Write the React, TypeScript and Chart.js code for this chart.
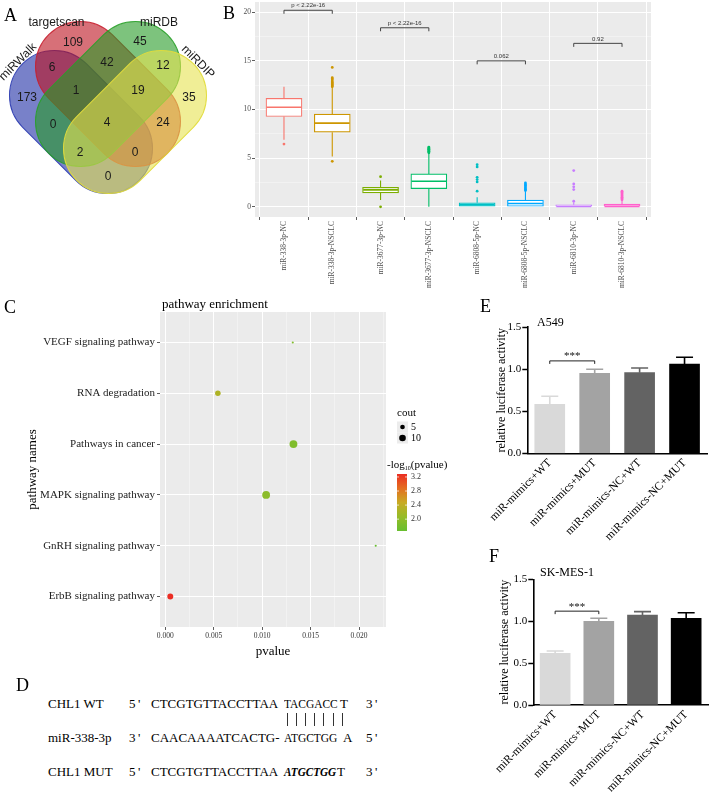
import React, { useEffect, useRef } from "react";
import { Chart, registerables } from "chart.js";

Chart.register(...registerables);

const SERIF = "'Liberation Serif', 'Times New Roman', Times, serif";
const SANS = "'Liberation Sans', Arial, Helvetica, sans-serif";

/* ======================= DATA ======================= */
// Panel A - Venn
const vennSetNames = ["miRWalk", "targetscan", "miRDB", "miRDIP"];
const vennRegionCounts = [173, 109, 45, 35, 6, 42, 12, 1, 19, 0, 4, 24, 2, 0, 0];

// Panel B - box plots
const bxCats = [
  "miR-338-3p-NC", "miR-338-3p-NSCLC", "miR-3677-3p-NC", "miR-3677-3p-NSCLC",
  "miR-6808-5p-NC", "miR-6808-5p-NSCLC", "miR-6810-3p-NC", "miR-6810-3p-NSCLC",
];
const bxQ1 = [9.28, 7.67, 1.43, 1.87, 0.0, 0.0, 0.0, 0.0];
const bxMedian = [10.23, 8.6, 1.74, 2.62, 0.2, 0.34, 0.04, 0.04];
const bxQ3 = [11.15, 9.52, 2.0, 3.38, 0.41, 0.68, 0.2, 0.27];
const bxWhiskerLow = [6.89, 5.18, 0.71, 0.0, 0.0, 0.0, 0.0, 0.0];
const bxWhiskerHigh = [12.35, 12.28, 2.69, 5.52, 0.98, 1.6, 0.45, 0.66];
const bxOutliers = [
  [6.45],
  [12.35, 12.45, 12.55, 12.65, 12.75, 12.86, 13.03, 13.15, 13.27, 14.33, 4.67],
  [3.1, 0.0],
  [5.55, 5.62, 5.7, 5.78, 5.85, 5.92, 6.0, 6.07, 6.14],
  [1.6, 2.56, 2.8, 3.03, 4.1, 4.33],
  [1.67, 1.8, 1.92, 2.05, 2.18, 2.3, 2.45],
  [0.57, 1.77, 2.05, 2.35, 3.72],
  [0.72, 0.85, 0.98, 1.1, 1.22, 1.35, 1.48, 1.6],
];
const bxPairLabels = ["p < 2.22e-16", "p < 2.22e-16", "0.062", "0.92"];
const bxPairLevels = [20.2, 18.4, 15.0, 16.8];
const bxYMajor = [0, 5, 10, 15, 20];

// Panel C - pathway enrichment
const pathNames = [
  "VEGF signaling pathway", "RNA degradation", "Pathways in cancer",
  "MAPK signaling pathway", "GnRH signaling pathway", "ErbB signaling pathway",
];
const pathPValues = [0.01316, 0.00543, 0.01323, 0.01041, 0.02172, 0.00052];
const pathCounts = [1, 7, 14, 14, 1, 8];
const pathXMajor = [0, 0.005, 0.01, 0.015, 0.02];
const legendCounts = [5, 10];
const colorbarTicks = [3.2, 2.8, 2.4, 2.0];

// Panels E / F - luciferase
const lucCats = ["miR-mimics+WT", "miR-mimics+MUT", "miR-mimics-NC+WT", "miR-mimics-NC+MUT"];
const a549Mean = [0.583, 0.952, 0.96, 1.063];
const a549Sd = [0.097, 0.048, 0.055, 0.08];
const skmesMean = [0.617, 0.998, 1.074, 1.035];
const skmesSd = [0.027, 0.037, 0.04, 0.065];
const lucTicks = [0, 0.5, 1.0, 1.5];

// Panel D - sequences
const seqNames = ["CHL1 WT", "miR-338-3p", "CHL1 MUT"];
const seqEnd5 = ["5\u2009'", "3\u2009'", "5\u2009'"];
const seqBody = ["CTCGTGTTACCTTAA", "CAACAAAATCACTG-", "CTCGTGTTACCTTAA"];
const seqSeed = ["TACGACC", "ATGCTGG", "ATGCTGG"];
const seqTail = ["T", "A", "T"];
const seqEnd3 = ["3\u2009'", "5\u2009'", "3\u2009'"];

/* ======================= STYLE / LAYOUT ======================= */
const vennShape = [
  { cx: 81, cy: 122, angle: 45, half: 37.5 },
  { cx: 108, cy: 94, angle: 45, half: 38.9 },
  { cx: 108, cy: 94, angle: -45, half: 38.9 },
  { cx: 135, cy: 122, angle: -45, half: 37.5 },
];
const VENN_R = 45;
const vennFill = ["rgba(30,45,165,0.6)", "rgba(188,17,30,0.6)", "rgba(38,155,38,0.6)", "rgba(230,227,80,0.6)"];
const vennStroke = ["rgba(40,55,175,0.9)", "rgba(200,30,45,0.9)", "rgba(40,160,40,0.9)", "rgba(225,220,60,0.95)"];
const vennRegionAnchor = [
  [27, 98], [73, 43], [140, 42], [189, 98], [52, 68], [107, 63], [163, 66],
  [76, 91], [138, 91], [53, 125], [107, 123], [163, 123], [80, 153], [135, 153], [108, 177],
];
const vennLabelAnchor = [[18, 62, -45], [56.5, 23, 0], [159, 23, 0], [198, 62, 45]];

const bxColors = ["#F8766D", "#CD9600", "#7CAE00", "#00BE67", "#00BFC4", "#00A9FF", "#C77CFF", "#FF61CC"];
const lucColors = ["#d9d9d9", "#a3a3a3", "#636363", "#000000"];

const gradStops: [number, number[]][] = [
  [0, [104, 190, 48]], [0.25, [150, 188, 40]], [0.5, [200, 170, 35]], [0.75, [228, 110, 32]], [1, [235, 45, 35]],
];
function gradColor(t: number) {
  t = Math.max(0, Math.min(1, t));
  for (let k = 1; k < gradStops.length; k++) {
    const [t1, c1] = gradStops[k];
    const [t0, c0] = gradStops[k - 1];
    if (t <= t1) {
      const f = (t - t0) / (t1 - t0);
      const c = c0.map((v, j) => Math.round(v + (c1[j] - v) * f));
      return `rgb(${c[0]},${c[1]},${c[2]})`;
    }
  }
  return "rgb(235,45,35)";
}
const countRadius = (c: number) => 1.05 * Math.sqrt(c);

/* ======================= PLUGINS ======================= */
const panelBg = {
  id: "panelBg",
  beforeDraw(chart: any) {
    const { ctx, chartArea: a } = chart;
    ctx.save();
    ctx.fillStyle = "#ebebeb";
    ctx.fillRect(a.left, a.top, a.right - a.left, a.bottom - a.top);
    ctx.restore();
  },
};

const vennPlugin = {
  id: "venn",
  beforeDatasetsDraw(chart: any) {
    const { ctx, scales } = chart;
    const x = scales.x, y = scales.y;
    const k = x.getPixelForValue(1) - x.getPixelForValue(0);
    vennShape.forEach((e, i) => {
      ctx.save();
      ctx.translate(x.getPixelForValue(e.cx), y.getPixelForValue(e.cy));
      ctx.rotate((e.angle * Math.PI) / 180);
      const L = e.half * k, R = VENN_R * k;
      ctx.beginPath();
      ctx.arc(L, 0, R, -Math.PI / 2, Math.PI / 2);
      ctx.arc(-L, 0, R, Math.PI / 2, (3 * Math.PI) / 2);
      ctx.closePath();
      ctx.fillStyle = vennFill[i];
      ctx.fill();
      ctx.lineWidth = 1;
      ctx.strokeStyle = vennStroke[i];
      ctx.stroke();
      ctx.restore();
    });
  },
  afterDatasetsDraw(chart: any) {
    const { ctx, scales } = chart;
    const x = scales.x, y = scales.y;
    const meta = chart.getDatasetMeta(0);
    ctx.save();
    ctx.font = `12px ${SANS}`;
    ctx.textAlign = "center";
    ctx.textBaseline = "middle";
    ctx.fillStyle = "#1a1a1a";
    meta.data.forEach((pt: any, i: number) => ctx.fillText(String(vennRegionCounts[i]), pt.x, pt.y));
    vennSetNames.forEach((name, i) => {
      const [lx, ly, rot] = vennLabelAnchor[i];
      ctx.save();
      ctx.translate(x.getPixelForValue(lx), y.getPixelForValue(ly));
      ctx.rotate((rot * Math.PI) / 180);
      ctx.fillText(name, 0, 0);
      ctx.restore();
    });
    ctx.restore();
  },
};

const boxParts = {
  id: "boxParts",
  afterDatasetsDraw(chart: any) {
    const { ctx, scales } = chart;
    const x = scales.x, y = scales.y;
    const bars = chart.getDatasetMeta(0).data;
    ctx.save();
    bxCats.forEach((_, i) => {
      const cx = x.getPixelForValue(i + 1);
      const half = bars[i].width / 2;
      ctx.strokeStyle = bxColors[i];
      ctx.lineWidth = 1.1;
      ctx.beginPath();
      ctx.moveTo(cx, y.getPixelForValue(bxQ3[i]));
      ctx.lineTo(cx, y.getPixelForValue(bxWhiskerHigh[i]));
      ctx.moveTo(cx, y.getPixelForValue(bxQ1[i]));
      ctx.lineTo(cx, y.getPixelForValue(bxWhiskerLow[i]));
      ctx.stroke();
      ctx.lineWidth = 1.6;
      ctx.beginPath();
      const ym = y.getPixelForValue(bxMedian[i]);
      ctx.moveTo(cx - half + 0.6, ym);
      ctx.lineTo(cx + half - 0.6, ym);
      ctx.stroke();
    });
    ctx.strokeStyle = "#444";
    ctx.fillStyle = "#333";
    ctx.lineWidth = 1;
    ctx.font = `6px ${SANS}`;
    ctx.textAlign = "center";
    ctx.textBaseline = "bottom";
    bxPairLabels.forEach((lab, p) => {
      const x1 = x.getPixelForValue(2 * p + 1);
      const x2 = x.getPixelForValue(2 * p + 2);
      const yy = y.getPixelForValue(bxPairLevels[p]);
      ctx.beginPath();
      ctx.moveTo(x1, yy + 3.5);
      ctx.lineTo(x1, yy);
      ctx.lineTo(x2, yy);
      ctx.lineTo(x2, yy + 3.5);
      ctx.stroke();
      ctx.fillText(lab, (x1 + x2) / 2, yy - 1.5);
    });
    ctx.restore();
  },
};

const bubbleLegend = {
  id: "bubbleLegend",
  afterDraw(chart: any) {
    const { ctx, chartArea } = chart;
    const nlp = pathPValues.map((p) => -Math.log10(p));
    const lo = Math.min(...nlp), hi = Math.max(...nlp);
    const x0 = chartArea.right + 11;
    ctx.save();
    ctx.textBaseline = "middle";
    ctx.textAlign = "left";
    ctx.fillStyle = "#000";
    ctx.font = `11px ${SERIF}`;
    ctx.fillText("cout", x0, 123);
    legendCounts.forEach((c, k) => {
      const cy = 137 + k * 11;
      ctx.fillStyle = "#ececec";
      ctx.fillRect(x0, cy - 5.5, 11, 11);
      ctx.fillStyle = "#000";
      ctx.beginPath();
      ctx.arc(x0 + 5.5, cy, countRadius(c), 0, Math.PI * 2);
      ctx.fill();
      ctx.font = `10px ${SERIF}`;
      ctx.fillText(String(c), x0 + 14, cy);
    });
    let tx = chartArea.right + 1;
    ctx.font = `11px ${SERIF}`;
    ctx.fillText("-log", tx, 175);
    tx += ctx.measureText("-log").width;
    ctx.font = `6px ${SERIF}`;
    ctx.fillText("10", tx, 178);
    tx += ctx.measureText("10").width;
    ctx.font = `11px ${SERIF}`;
    ctx.fillText("(pvalue)", tx, 175);
    const top = 184, h = 57, w = 10;
    const g = ctx.createLinearGradient(0, top + h, 0, top);
    for (let k = 0; k <= 20; k++) g.addColorStop(k / 20, gradColor(k / 20));
    ctx.fillStyle = g;
    ctx.fillRect(x0, top, w, h);
    ctx.font = `8px ${SERIF}`;
    colorbarTicks.forEach((v) => {
      const yy = top + ((hi - v) / (hi - lo)) * h;
      ctx.strokeStyle = "rgba(255,255,255,0.9)";
      ctx.lineWidth = 0.8;
      ctx.beginPath();
      ctx.moveTo(x0, yy);
      ctx.lineTo(x0 + 2, yy);
      ctx.moveTo(x0 + w - 2, yy);
      ctx.lineTo(x0 + w, yy);
      ctx.stroke();
      ctx.fillStyle = "#333";
      ctx.fillText(v.toFixed(1), x0 + 14, yy);
    });
    ctx.restore();
  },
};

function lucExtras(sd: number[], mean: number[], sigLevel: number) {
  return {
    id: "lucExtras",
    afterDatasetsDraw(chart: any) {
      const { ctx, scales } = chart;
      const y = scales.y;
      const bars = chart.getDatasetMeta(0).data;
      ctx.save();
      bars.forEach((b: any, i: number) => {
        const yTop = y.getPixelForValue(mean[i]);
        const yErr = y.getPixelForValue(mean[i] + sd[i]);
        ctx.strokeStyle = lucColors[i];
        ctx.lineWidth = 1.6;
        ctx.beginPath();
        ctx.moveTo(b.x, yTop);
        ctx.lineTo(b.x, yErr);
        ctx.moveTo(b.x - 8.5, yErr);
        ctx.lineTo(b.x + 8.5, yErr);
        ctx.stroke();
      });
      const x1 = bars[0].x, x2 = bars[1].x;
      const yy = y.getPixelForValue(sigLevel);
      ctx.strokeStyle = "#222";
      ctx.lineWidth = 1;
      ctx.beginPath();
      ctx.moveTo(x1, yy + 3);
      ctx.lineTo(x1, yy);
      ctx.lineTo(x2, yy);
      ctx.lineTo(x2, yy + 3);
      ctx.stroke();
      ctx.fillStyle = "#111";
      ctx.font = `11px ${SERIF}`;
      ctx.textAlign = "center";
      ctx.textBaseline = "bottom";
      ctx.fillText("***", (x1 + x2) / 2, yy + 1);
      ctx.restore();
    },
  };
}

/* ======================= CONFIGS ======================= */
const noPlugins = { legend: { display: false }, tooltip: { enabled: false } };

function vennConfig(): any {
  return {
    type: "scatter",
    data: { datasets: [{ data: vennRegionAnchor.map(([x, y]) => ({ x, y })), pointRadius: 0 }] },
    options: {
      animation: false,
      responsive: false,
      events: [],
      layout: { padding: 0 },
      plugins: noPlugins,
      scales: {
        x: { type: "linear", display: false, min: 0, max: 216 },
        y: { type: "linear", display: false, min: 0, max: 200, reverse: true },
      },
    },
    plugins: [vennPlugin],
  };
}

function boxConfig(): any {
  const outlierData: { x: number; y: number }[] = [];
  const outlierColors: string[] = [];
  bxOutliers.forEach((arr, i) =>
    arr.forEach((v) => {
      outlierData.push({ x: i + 1, y: v });
      outlierColors.push(bxColors[i]);
    })
  );
  const yTicks = [...bxYMajor, ...bxYMajor.slice(0, -1).map((v) => v + 2.5)].sort((a, b) => a - b);
  const isMajor = (v: number) => bxYMajor.some((m) => Math.abs(m - v) < 1e-6);
  return {
    type: "bar",
    data: {
      datasets: [
        {
          type: "bar",
          data: bxCats.map((_, i) => ({ x: i + 1, y: [bxQ1[i], bxQ3[i]] })),
          backgroundColor: "#ffffff",
          borderColor: bxColors,
          borderWidth: 1.2,
          borderSkipped: false,
          barThickness: 36,
        },
        {
          type: "scatter",
          data: outlierData,
          pointRadius: 1.4,
          pointBackgroundColor: outlierColors,
          pointBorderWidth: 0,
          showLine: false,
        },
      ],
    },
    options: {
      animation: false,
      responsive: false,
      events: [],
      layout: { padding: { left: 0, right: 65, top: 6, bottom: 0 } },
      plugins: noPlugins,
      scales: {
        x: {
          type: "linear",
          min: 0.4,
          max: 8.6,
          offset: false,
          afterBuildTicks: (ax: any) => {
            ax.ticks = bxCats.map((_, i) => ({ value: i + 1 }));
          },
          afterFit: (ax: any) => {
            ax.height = 79;
          },
          ticks: {
            autoSkip: false,
            minRotation: 90,
            maxRotation: 90,
            padding: 1,
            color: "#4d4d4d",
            font: { family: SERIF, size: 7.5 },
            callback: (v: number) => bxCats[Math.round(v) - 1] ?? "",
          },
          grid: { color: "#ffffff", lineWidth: 1, tickLength: 3, tickColor: "#333", tickWidth: 0.8 },
          border: { display: false },
        },
        y: {
          type: "linear",
          min: -1.05,
          max: 21.05,
          afterBuildTicks: (ax: any) => {
            ax.ticks = yTicks.map((v) => ({ value: v }));
          },
          afterFit: (ax: any) => {
            ax.width = 33;
          },
          ticks: {
            autoSkip: false,
            padding: 1,
            color: "#4d4d4d",
            font: { family: SERIF, size: 7.5 },
            callback: (v: number) => (isMajor(v) ? String(v) : ""),
          },
          grid: {
            color: (c: any) => (isMajor(c.tick.value) ? "#ffffff" : "rgba(255,255,255,0.75)"),
            lineWidth: (c: any) => (isMajor(c.tick.value) ? 1 : 0.5),
            tickLength: 3,
            tickColor: (c: any) => (isMajor(c.tick.value) ? "#333" : "rgba(0,0,0,0)"),
            tickWidth: 0.8,
          },
          border: { display: false },
        },
      },
    },
    plugins: [panelBg, boxParts],
  };
}

function bubbleConfig(): any {
  const nlp = pathPValues.map((p) => -Math.log10(p));
  const lo = Math.min(...nlp), hi = Math.max(...nlp);
  const xTicks = [...pathXMajor, ...pathXMajor.map((v) => v + 0.0025)].sort((a, b) => a - b);
  const isMajor = (v: number) => pathXMajor.some((m) => Math.abs(m - v) < 1e-9);
  const n = pathNames.length;
  return {
    type: "bubble",
    data: {
      datasets: [
        {
          data: pathNames.map((_, i) => ({ x: pathPValues[i], y: n - i, r: countRadius(pathCounts[i]) })),
          backgroundColor: nlp.map((v) => gradColor((v - lo) / (hi - lo))),
          borderWidth: 0,
        },
      ],
    },
    options: {
      animation: false,
      responsive: false,
      events: [],
      layout: { padding: { left: 21, right: 69, top: 22, bottom: 7 } },
      plugins: noPlugins,
      scales: {
        x: {
          type: "linear",
          min: -0.00054,
          max: 0.02278,
          afterBuildTicks: (ax: any) => {
            ax.ticks = xTicks.map((v) => ({ value: v }));
          },
          afterFit: (ax: any) => {
            ax.height = 36;
          },
          ticks: {
            autoSkip: false,
            maxRotation: 0,
            padding: 2,
            color: "#333",
            font: { family: SERIF, size: 7.5 },
            callback: (v: number) => (isMajor(v) ? v.toFixed(3) : ""),
          },
          grid: {
            color: (c: any) => (isMajor(c.tick.value) ? "#ffffff" : "rgba(255,255,255,0.75)"),
            lineWidth: (c: any) => (isMajor(c.tick.value) ? 1 : 0.5),
            tickLength: 3,
            tickColor: (c: any) => (isMajor(c.tick.value) ? "#333" : "rgba(0,0,0,0)"),
            tickWidth: 0.8,
          },
          border: { display: false },
          title: {
            display: true,
            text: "pvalue",
            color: "#000",
            font: { family: SERIF, size: 13 },
            padding: { top: 0, bottom: 4 },
          },
        },
        y: {
          type: "linear",
          min: 0.4,
          max: 6.6,
          afterBuildTicks: (ax: any) => {
            ax.ticks = pathNames.map((_, i) => ({ value: i + 1 }));
          },
          afterFit: (ax: any) => {
            ax.width = 139;
          },
          ticks: {
            autoSkip: false,
            padding: 2,
            color: "#222",
            font: { family: SERIF, size: 11 },
            callback: (v: number) => pathNames[n - Math.round(v)] ?? "",
          },
          grid: { color: "#ffffff", lineWidth: 1, tickLength: 3, tickColor: "#333", tickWidth: 0.8 },
          border: { display: false },
          title: {
            display: true,
            text: "pathway names",
            color: "#000",
            font: { family: SERIF, size: 13 },
            padding: { top: 4, bottom: 0 },
          },
        },
      },
    },
    plugins: [panelBg, bubbleLegend],
  };
}

function lucConfig(mean: number[], sd: number[], sigLevel: number, pad: any, yWidth: number, xHeight: number): any {
  return {
    type: "bar",
    data: {
      labels: lucCats,
      datasets: [{ data: mean, backgroundColor: lucColors, borderWidth: 0, barThickness: 30 }],
    },
    options: {
      animation: false,
      responsive: false,
      events: [],
      layout: { padding: pad },
      plugins: noPlugins,
      scales: {
        x: {
          afterFit: (ax: any) => {
            ax.height = xHeight;
          },
          ticks: {
            autoSkip: false,
            minRotation: 45,
            maxRotation: 45,
            padding: 3,
            color: "#000",
            font: { family: SERIF, size: 11.5 },
          },
          grid: { display: true, drawOnChartArea: false, drawTicks: false },
          border: { display: true, color: "#000", width: 1.6 },
        },
        y: {
          min: 0,
          max: 1.5,
          afterBuildTicks: (ax: any) => {
            ax.ticks = lucTicks.map((v) => ({ value: v }));
          },
          afterFit: (ax: any) => {
            ax.width = yWidth;
          },
          ticks: {
            padding: 1,
            color: "#000",
            font: { family: SERIF, size: 11 },
            callback: (v: number) => v.toFixed(1),
          },
          grid: { display: true, drawOnChartArea: false, drawTicks: true, tickLength: 5, tickColor: "#000", tickWidth: 1.5 },
          border: { display: true, color: "#000", width: 1.6 },
          title: {
            display: true,
            text: "relative luciferase activity",
            color: "#000",
            font: { family: SERIF, size: 12 },
            padding: { top: 4, bottom: 0 },
          },
        },
      },
    },
    plugins: [lucExtras(sd, mean, sigLevel)],
  };
}

/* ======================= COMPONENTS ======================= */
function ChartCanvas(props: { left: number; top: number; width: number; height: number; make: () => any }) {
  const ref = useRef<HTMLCanvasElement | null>(null);
  useEffect(() => {
    const chart = new Chart(ref.current as HTMLCanvasElement, props.make());
    return () => chart.destroy();
  }, []);
  const { left, top, width, height } = props;
  return (
    <canvas
      ref={ref}
      width={width}
      height={height}
      style={{ position: "absolute", left, top, width, height, display: "block" }}
    />
  );
}

function Txt(props: {
  x: number;
  y: number;
  size: number;
  family?: string;
  weight?: string;
  italic?: boolean;
  squeeze?: number;
  children: React.ReactNode;
}) {
  return (
    <div
      style={{
        position: "absolute",
        left: props.x,
        top: props.y - props.size / 2,
        fontSize: props.size,
        lineHeight: `${props.size}px`,
        fontFamily: props.family || SERIF,
        fontWeight: props.weight || "normal",
        fontStyle: props.italic ? "italic" : "normal",
        whiteSpace: "nowrap",
        color: "#000",
        transform: props.squeeze ? `scaleX(${props.squeeze})` : undefined,
        transformOrigin: "left center",
      }}
    >
      {props.children}
    </div>
  );
}

const seqRowY = [703, 737, 771];
const seqTailX = [340, 343, 337];
const seqSeedSqueeze = [0.88, 0.88, 0.86];

export default function App() {
  return (
    <div
      style={{
        position: "absolute",
        left: 0,
        top: 0,
        width: 716,
        height: 802,
        background: "#fff",
        overflow: "hidden",
      }}
    >
      <ChartCanvas left={0} top={0} width={216} height={200} make={vennConfig} />
      <ChartCanvas left={222} top={-4} width={494} height={300} make={boxConfig} />
      <ChartCanvas left={0} top={290} width={455} height={380} make={bubbleConfig} />
      <ChartCanvas
        left={450}
        top={295}
        width={266}
        height={255}
        make={() => lucConfig(a549Mean, a549Sd, 1.1, { left: 40.8, right: 9, top: 32.3, bottom: 0 }, 36.5, 96.7)}
      />
      <ChartCanvas
        left={450}
        top={545}
        width={266}
        height={257}
        make={() => lucConfig(skmesMean, skmesSd, 1.12, { left: 43.8, right: 8, top: 34.3, bottom: 0 }, 39.5, 97)}
      />

      <Txt x={4} y={15} size={18}>A</Txt>
      <Txt x={223} y={13} size={18}>B</Txt>
      <Txt x={4} y={307} size={18}>C</Txt>
      <Txt x={16} y={685} size={18}>D</Txt>
      <Txt x={480} y={306} size={18}>E</Txt>
      <Txt x={489} y={556} size={18}>F</Txt>

      <Txt x={162} y={303} size={13}>pathway enrichment</Txt>
      <Txt x={537} y={322} size={12}>A549</Txt>
      <Txt x={540} y={572} size={12}>SK-MES-1</Txt>

      {seqNames.map((nm, r) => (
        <React.Fragment key={nm}>
          <Txt x={48} y={seqRowY[r]} size={13}>{nm}</Txt>
          <Txt x={129} y={seqRowY[r]} size={13}>{seqEnd5[r]}</Txt>
          <Txt x={151} y={seqRowY[r]} size={13}>{seqBody[r]}</Txt>
          <Txt
            x={284}
            y={seqRowY[r]}
            size={13}
            weight={r === 2 ? "bold" : "normal"}
            italic={r === 2}
            squeeze={seqSeedSqueeze[r]}
          >
            {seqSeed[r]}
          </Txt>
          <Txt x={seqTailX[r]} y={seqRowY[r]} size={13}>{seqTail[r]}</Txt>
          <Txt x={366} y={seqRowY[r]} size={13}>{seqEnd3[r]}</Txt>
        </React.Fragment>
      ))}
      {seqSeed[0].split("").map((_, i) => (
        <div
          key={i}
          style={{
            position: "absolute",
            left: 287 + i * 9.1,
            top: 713,
            width: 1,
            height: 13,
            background: "#333",
          }}
        />
      ))}
    </div>
  );
}
